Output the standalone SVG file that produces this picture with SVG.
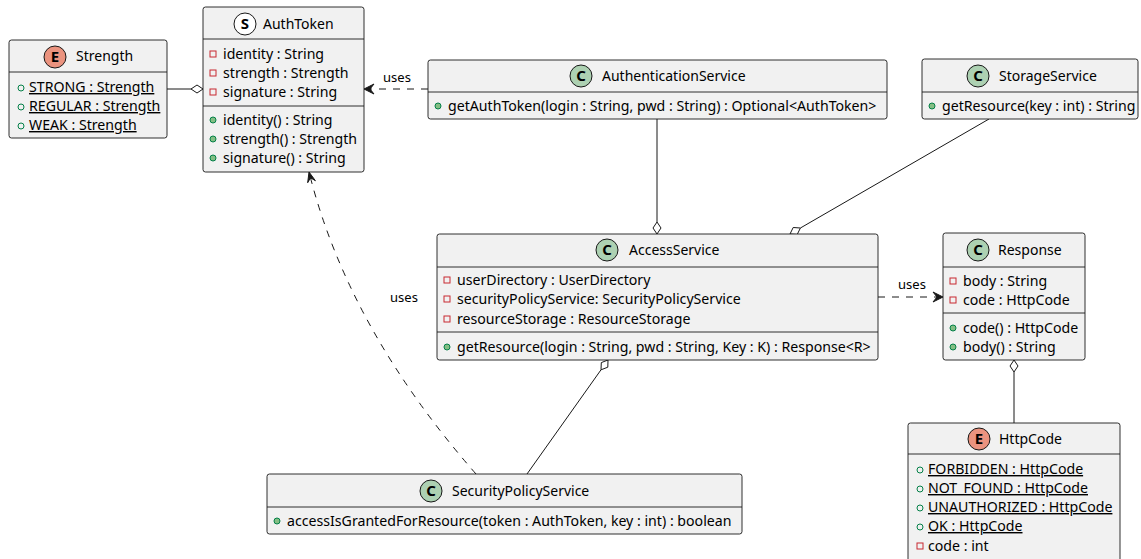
<svg xmlns="http://www.w3.org/2000/svg" width="1141" height="559" viewBox="0 0 1141 559">
  <style>
    text { font-family: "Noto Sans", "DejaVu Sans", sans-serif; fill: #000; }
    .box { fill: #F1F1F1; stroke: #181818; stroke-width: 0.9; }
    .sep { stroke: #181818; stroke-width: 0.9; }
    .title { font-size: 14px; }
    .mem { font-size: 14.15px; }
    .lbl { font-size: 13px; text-anchor: middle; }
    .ul { text-decoration: underline; }
    .cls { fill: #ADD1B2; stroke: #181818; stroke-width: 1; }
    .enm { fill: #EB937F; stroke: #181818; stroke-width: 1; }
    .str { fill: #FFFFFF; stroke: #181818; stroke-width: 1; }
    .glyph { font-size: 15px; font-weight: bold; text-anchor: middle; }
    .priv { fill: none; stroke: #C82930; stroke-width: 1; }
    .pubm { fill: #84BE84; stroke: #038048; stroke-width: 1; }
    .pubf { fill: none; stroke: #038048; stroke-width: 1; }
    .edge { fill: none; stroke: #181818; stroke-width: 1; }
    .dash { fill: none; stroke: #181818; stroke-width: 1; stroke-dasharray: 7,7; }
    .dia { fill: #FFFFFF; stroke: #181818; stroke-width: 1; }
    .head { fill: #181818; stroke: #181818; stroke-width: 1; }
  </style>

  <!-- connectors -->
  <g id="connectors">
    <!-- Strength o- AuthToken -->
    <line class="edge" x1="167" y1="89" x2="191" y2="89"/>
    <polygon class="dia" points="203,89 197,85 191,89 197,93"/>
    <!-- AuthenticationService ..> AuthToken -->
    <line class="dash" x1="428" y1="89" x2="370" y2="89"/>
    <polygon class="head" points="364,89 374,84 370,89 374,94"/>
    <text class="lbl" x="397" y="82">uses</text>
    <!-- AuthenticationService -o AccessService -->
    <line class="edge" x1="657" y1="119" x2="657" y2="222"/>
    <polygon class="dia" points="657,234 653,228 657,222 661,228"/>
    <!-- StorageService -o AccessService -->
    <line class="edge" x1="989" y1="119" x2="800.4" y2="228"/>
    <polygon class="dia" points="790,234 797.2,234.5 800.4,228 793.2,227.5"/>
    <!-- AccessService ..> Response -->
    <line class="dash" x1="878" y1="297" x2="937" y2="297"/>
    <polygon class="head" points="943,297 933,292 937,297 933,302"/>
    <text class="lbl" x="912" y="289">uses</text>
    <!-- Response o- HttpCode -->
    <line class="edge" x1="1014" y1="372" x2="1014" y2="423"/>
    <polygon class="dia" points="1014,360 1018,366 1014,372 1010,366"/>
    <!-- AccessService o- SecurityPolicyService -->
    <line class="edge" x1="601" y1="369.8" x2="527" y2="474"/>
    <polygon class="dia" points="608,360 607.8,367.2 601,369.8 601.3,362.6"/>
    <!-- SecurityPolicyService ..> AuthToken -->
    <path class="dash" d="M476,474 Q350,330 310.5,177.8"/>
    <polygon class="head" points="309,172 315.4,180.7 310.5,177.8 307.7,182.7"/>
    <text class="lbl" x="404" y="302">uses</text>
  </g>

  <!-- Strength enum -->
  <g id="Strength">
    <rect class="box" x="9" y="40" width="158" height="98" rx="2.5"/>
    <line class="sep" x1="9" y1="72" x2="167" y2="72"/>
    <circle class="enm" cx="55" cy="57" r="11"/>
    <text class="glyph" x="55" y="62">E</text>
    <text class="title" x="76" y="61">Strength</text>
    <circle class="pubf" cx="21" cy="88" r="3"/>
    <text class="mem ul" x="29" y="92">STRONG : Strength</text>
    <circle class="pubf" cx="21" cy="107" r="3"/>
    <text class="mem ul" x="29" y="111">REGULAR : Strength</text>
    <circle class="pubf" cx="21" cy="126" r="3"/>
    <text class="mem ul" x="29" y="130">WEAK : Strength</text>
  </g>

  <!-- AuthToken -->
  <g id="AuthToken">
    <rect class="box" x="203" y="7" width="161" height="165" rx="2.5"/>
    <line class="sep" x1="203" y1="39" x2="364" y2="39"/>
    <line class="sep" x1="203" y1="106" x2="364" y2="106"/>
    <circle class="str" cx="245" cy="24" r="11"/>
    <text class="glyph" x="245" y="29">S</text>
    <text class="title" x="263" y="29">AuthToken</text>
    <rect class="priv" x="210" y="51" width="6" height="6"/>
    <text class="mem" x="223" y="59">identity : String</text>
    <rect class="priv" x="210" y="70" width="6" height="6"/>
    <text class="mem" x="223" y="78">strength : Strength</text>
    <rect class="priv" x="210" y="89" width="6" height="6"/>
    <text class="mem" x="223" y="97">signature : String</text>
    <circle class="pubm" cx="213" cy="120" r="3"/>
    <text class="mem" x="223" y="125">identity() : String</text>
    <circle class="pubm" cx="213" cy="139" r="3"/>
    <text class="mem" x="223" y="144">strength() : Strength</text>
    <circle class="pubm" cx="213" cy="158" r="3"/>
    <text class="mem" x="223" y="163">signature() : String</text>
  </g>

  <!-- AuthenticationService -->
  <g id="AuthenticationService">
    <rect class="box" x="428" y="60" width="459" height="59" rx="2.5"/>
    <line class="sep" x1="428" y1="92" x2="887" y2="92"/>
    <circle class="cls" cx="581" cy="76" r="11"/>
    <text class="glyph" x="581" y="81">C</text>
    <text class="title" x="602" y="81">AuthenticationService</text>
    <circle class="pubm" cx="438" cy="106" r="3"/>
    <text class="mem" x="448" y="111">getAuthToken(login : String, pwd : String) : Optional&lt;AuthToken&gt;</text>
  </g>

  <!-- StorageService -->
  <g id="StorageService">
    <rect class="box" x="922" y="59" width="216" height="60" rx="2.5"/>
    <line class="sep" x1="922" y1="92" x2="1138" y2="92"/>
    <circle class="cls" cx="978" cy="76" r="11"/>
    <text class="glyph" x="978" y="81">C</text>
    <text class="title" x="999" y="81">StorageService</text>
    <circle class="pubm" cx="932" cy="106" r="3"/>
    <text class="mem" x="942" y="111">getResource(key : int) : String</text>
  </g>

  <!-- AccessService -->
  <g id="AccessService">
    <rect class="box" x="437" y="234" width="441" height="126" rx="2.5"/>
    <line class="sep" x1="437" y1="267" x2="878" y2="267"/>
    <line class="sep" x1="437" y1="332" x2="878" y2="332"/>
    <circle class="cls" cx="607" cy="250" r="11"/>
    <text class="glyph" x="607" y="255">C</text>
    <text class="title" x="629" y="255">AccessService</text>
    <rect class="priv" x="444" y="277" width="6" height="6"/>
    <text class="mem" x="457" y="285">userDirectory : UserDirectory</text>
    <rect class="priv" x="444" y="296" width="6" height="6"/>
    <text class="mem" x="457" y="304">securityPolicyService: SecurityPolicyService</text>
    <rect class="priv" x="444" y="316" width="6" height="6"/>
    <text class="mem" x="457" y="324">resourceStorage : ResourceStorage</text>
    <circle class="pubm" cx="447" cy="347" r="3"/>
    <text class="mem" x="457" y="352">getResource(login : String, pwd : String, Key : K) : Response&lt;R&gt;</text>
  </g>

  <!-- Response -->
  <g id="Response">
    <rect class="box" x="943" y="233" width="142" height="127" rx="2.5"/>
    <line class="sep" x1="943" y1="267" x2="1085" y2="267"/>
    <line class="sep" x1="943" y1="313" x2="1085" y2="313"/>
    <circle class="cls" cx="978" cy="250" r="11"/>
    <text class="glyph" x="978" y="255">C</text>
    <text class="title" x="998" y="255">Response</text>
    <rect class="priv" x="950" y="278" width="6" height="6"/>
    <text class="mem" x="963" y="286">body : String</text>
    <rect class="priv" x="950" y="297" width="6" height="6"/>
    <text class="mem" x="963" y="305">code : HttpCode</text>
    <circle class="pubm" cx="953" cy="328" r="3"/>
    <text class="mem" x="963" y="333">code() : HttpCode</text>
    <circle class="pubm" cx="953" cy="347" r="3"/>
    <text class="mem" x="963" y="352">body() : String</text>
  </g>

  <!-- HttpCode enum -->
  <g id="HttpCode">
    <rect class="box" x="908" y="423" width="212" height="145" rx="2.5"/>
    <line class="sep" x1="908" y1="454" x2="1120" y2="454"/>
    <circle class="enm" cx="979" cy="439" r="11"/>
    <text class="glyph" x="979" y="444">E</text>
    <text class="title" x="999" y="444">HttpCode</text>
    <circle class="pubf" cx="920" cy="470" r="3"/>
    <text class="mem ul" x="928" y="474">FORBIDDEN : HttpCode</text>
    <circle class="pubf" cx="920" cy="489" r="3"/>
    <text class="mem ul" x="928" y="493">NOT_FOUND : HttpCode</text>
    <circle class="pubf" cx="920" cy="508" r="3"/>
    <text class="mem ul" x="928" y="512">UNAUTHORIZED : HttpCode</text>
    <circle class="pubf" cx="920" cy="527" r="3"/>
    <text class="mem ul" x="928" y="531">OK : HttpCode</text>
    <rect class="priv" x="917" y="543" width="6" height="6"/>
    <text class="mem" x="928" y="551">code : int</text>
  </g>

  <!-- SecurityPolicyService -->
  <g id="SecurityPolicyService">
    <rect class="box" x="267" y="474" width="475" height="60" rx="2.5"/>
    <line class="sep" x1="267" y1="507" x2="742" y2="507"/>
    <circle class="cls" cx="431" cy="491" r="11"/>
    <text class="glyph" x="431" y="496">C</text>
    <text class="title" x="452" y="496">SecurityPolicyService</text>
    <circle class="pubm" cx="277" cy="521" r="3"/>
    <text class="mem" x="287" y="526">accessIsGrantedForResource(token : AuthToken, key : int) : boolean</text>
  </g>
</svg>
